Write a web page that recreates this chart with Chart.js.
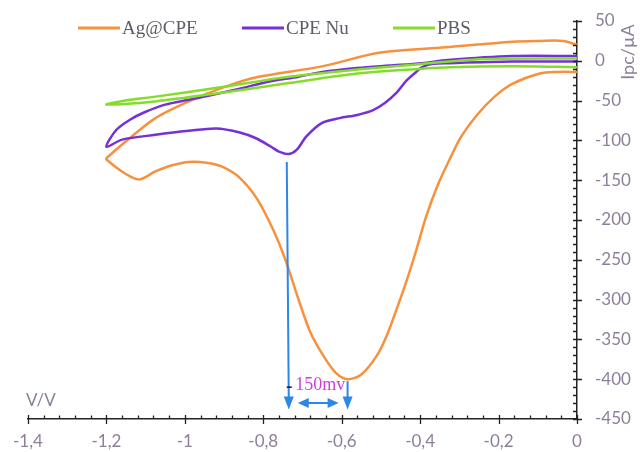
<!DOCTYPE html>
<html>
<head>
<meta charset="utf-8">
<script src="https://cdn.jsdelivr.net/npm/chart.js@4.4.0/dist/chart.umd.min.js"></script>
<style>
  html, body { margin: 0; padding: 0; background: #fff; }
  canvas { display: block; }
</style>
</head>
<body>
<canvas id="cvChart" width="640" height="452"></canvas>
<script>
// Cyclic voltammograms: potential (V) and current (µA), in scan order around each loop
const seriesNames = ['Ag@CPE', 'CPE Nu', 'PBS'];

const agPotential = [0, -0.05, -0.095, -0.165, -0.21, -0.255, -0.295, -0.325, -0.355, -0.385, -0.41, -0.435,
  -0.46, -0.485, -0.51, -0.55, -0.585, -0.615, -0.645, -0.68, -0.71, -0.745, -0.775, -0.815, -0.86, -0.905,
  -0.945, -0.99, -1.03, -1.075, -1.12, -1.2, -1.19, -1.14, -1.075, -0.99, -0.905, -0.82, -0.65, -0.505,
  -0.335, -0.165, -0.095, -0.035, 0];
const agCurrent = [-14, -14, -16, -29, -45, -68, -95, -124, -156, -196, -238, -277,
  -312, -345, -370, -394, -400, -392, -372, -341, -300, -248, -212, -174, -147, -133,
  -128, -127, -131, -139, -149, -124, -118, -97, -72, -51, -34, -21, -7, 10,
  17, 24, 25, 25, 20];

const nuPotential = [0, -0.165, -0.325, -0.37, -0.395, -0.41, -0.435, -0.46, -0.49, -0.52, -0.56, -0.605,
  -0.65, -0.69, -0.715, -0.735, -0.76, -0.78, -0.82, -0.86, -0.92, -0.99, -1.075, -1.16, -1.2,
  -1.175, -1.14, -1.1, -1.05, -0.99, -0.94, -0.86, -0.785, -0.71, -0.65, -0.56, -0.48, -0.395, -0.33,
  -0.165, 0];
const nuCurrent = [-1, -1, -3, -4, -8, -14, -25, -40, -53, -62, -68, -72,
  -78, -95, -112, -117, -114, -108, -97, -90, -85, -88, -93, -99, -108,
  -87, -74, -64, -55, -49, -44, -35, -26, -20, -14, -9, -6, -3, 1,
  6, 6];

const pbsPotential = [0, -0.165, -0.325, -0.395, -0.56, -0.735, -0.905, -1.075, -1.2,
  -1.14, -1.075, -0.905, -0.735, -0.56, -0.395, -0.25, 0];
const pbsCurrent = [-8, -7, -8, -10, -16, -28, -40, -51, -55,
  -49, -45, -33, -20, -11, -4, 2, 3];

const seriesColors = ['#f7913d', '#7630d8', '#84dd2a'];
const labelColor = '#8d7f99';

function toPoints(xs, ys) {
  return xs.map((v, i) => ({ x: v, y: ys[i] }));
}

// reduction peak = lowest current of a loop
function peakOf(xs, ys) {
  const i = ys.indexOf(Math.min(...ys));
  return { v: xs[i], i: ys[i] };
}

function fmtVolt(v) {
  const r = Math.round(v * 10) / 10;
  return String(r).replace('.', ',');
}

function arrowHead(ctx, tipX, tipY, dx, dy, len, half) {
  const nx = -dy, ny = dx;
  ctx.beginPath();
  ctx.moveTo(tipX, tipY);
  ctx.lineTo(tipX - dx * len + nx * half, tipY - dy * len + ny * half);
  ctx.lineTo(tipX - dx * len - nx * half, tipY - dy * len - ny * half);
  ctx.closePath();
  ctx.fill();
}

const decorations = {
  id: 'decorations',
  afterDraw(chart) {
    const { ctx, scales: { x, y } } = chart;
    const x0 = x.getPixelForValue(0);
    const yb = y.getPixelForValue(-450);
    ctx.save();

    // tick marks: majors cross the axis, minors sit inside
    ctx.strokeStyle = '#222';
    ctx.lineWidth = 1.3;
    ctx.beginPath();
    for (let k = 0; k <= 35; k++) {
      const px = Math.round(x.getPixelForValue(-1.4 + k * 0.04)) + 0.5;
      const major = k % 5 === 0;
      ctx.moveTo(px, yb - (major ? 4 : 3.5));
      ctx.lineTo(px, yb + (major ? 5 : 0));
    }
    for (let k = 0; k <= 50; k++) {
      const py = Math.round(y.getPixelForValue(-450 + k * 10)) + 0.5;
      const major = k % 5 === 0;
      ctx.moveTo(x0 - 4, py);
      ctx.lineTo(x0 + (major ? 5 : 0), py);
    }
    ctx.stroke();

    // axis captions
    ctx.fillStyle = labelColor;
    ctx.font = '17px Lato';
    ctx.textBaseline = 'middle';
    ctx.textAlign = 'left';
    ctx.fillText('V/V', 26, 401);
    ctx.save();
    ctx.translate(628, 52);
    ctx.rotate(-Math.PI / 2);
    ctx.textAlign = 'center';
    ctx.font = '18px Lato';
    ctx.fillText('Ipc/µA', 0, 0);
    ctx.restore();

    // legend
    const legendX = [78, 242, 393];
    ctx.font = '19px "Liberation Serif"';
    ctx.lineWidth = 3;
    chart.data.datasets.forEach((ds, i) => {
      const lx = legendX[i];
      ctx.strokeStyle = ds.borderColor;
      ctx.beginPath();
      ctx.moveTo(lx, 28);
      ctx.lineTo(lx + 42, 28);
      ctx.stroke();
      ctx.fillStyle = '#5c5c66';
      ctx.fillText(ds.label, lx + 44, 29);
    });

    // peak separation markers
    const pNu = peakOf(nuPotential, nuCurrent);
    const pAg = peakOf(agPotential, agCurrent);
    const xa = x.getPixelForValue(pNu.v);
    const xb = x.getPixelForValue(pAg.v);
    const tipY = y.getPixelForValue(-438);
    const midY = y.getPixelForValue(-430);
    ctx.strokeStyle = '#2b87ea';
    ctx.fillStyle = '#2b87ea';
    ctx.lineWidth = 2;
    ctx.beginPath();
    ctx.moveTo(xa - 2, y.getPixelForValue(pNu.i) + 8);
    ctx.lineTo(xa, tipY - 10);
    ctx.moveTo(xb, y.getPixelForValue(pAg.i) + 2);
    ctx.lineTo(xb, tipY - 10);
    ctx.moveTo(xa + 18, midY);
    ctx.lineTo(xb - 18, midY);
    ctx.stroke();
    arrowHead(ctx, xa, tipY, 0, 1, 13, 5);
    arrowHead(ctx, xb, tipY, 0, 1, 13, 5);
    arrowHead(ctx, xa + 9, midY, -1, 0, 11, 5);
    arrowHead(ctx, xb - 9, midY, 1, 0, 11, 5);

    ctx.strokeStyle = '#111';
    ctx.lineWidth = 1.5;
    ctx.beginPath();
    ctx.moveTo(xa - 2, y.getPixelForValue(-410));
    ctx.lineTo(xa + 3, y.getPixelForValue(-410));
    ctx.stroke();

    const sep = Math.round((pAg.v - pNu.v) * 1000);
    ctx.fillStyle = '#cf3fd8';
    ctx.font = '18px "Liberation Serif"';
    ctx.textAlign = 'center';
    ctx.fillText(sep + 'mv', (xa + xb) / 2 + 2, y.getPixelForValue(-408));
    ctx.restore();
  }
};

new Chart(document.getElementById('cvChart'), {
  type: 'scatter',
  data: {
    datasets: [
      { label: seriesNames[0], data: toPoints(agPotential, agCurrent), borderColor: seriesColors[0], order: 2 },
      { label: seriesNames[1], data: toPoints(nuPotential, nuCurrent), borderColor: seriesColors[1], order: 1 },
      { label: seriesNames[2], data: toPoints(pbsPotential, pbsCurrent), borderColor: seriesColors[2], order: 0 }
    ].map(ds => Object.assign(ds, {
      showLine: true,
      pointRadius: 0,
      borderWidth: 2.5,
      tension: 0.3,
      fill: false
    }))
  },
  options: {
    responsive: false,
    animation: false,
    layout: { padding: { top: 21, left: 28, right: 0, bottom: 0 } },
    plugins: {
      legend: { display: false },
      tooltip: { enabled: false }
    },
    scales: {
      x: {
        type: 'linear',
        min: -1.4,
        max: 0,
        // tick marks are drawn by the plugin; tickLength only spaces the labels
        grid: { display: false, drawTicks: true, tickLength: 11 },
        border: { display: true, color: '#222', width: 1.5 },
        ticks: {
          stepSize: 0.2,
          maxRotation: 0,
          autoSkip: false,
          padding: 1,
          color: labelColor,
          font: { family: 'Lato', size: 17 },
          callback: v => fmtVolt(v)
        },
        afterFit: s => { s.height = 33; }
      },
      y: {
        type: 'linear',
        position: 'right',
        min: -450,
        max: 50,
        grid: { display: false, drawTicks: true, tickLength: 16 },
        border: { display: true, color: '#222', width: 1.5 },
        ticks: {
          stepSize: 50,
          padding: 2,
          color: labelColor,
          font: { family: 'Lato', size: 17 }
        },
        afterFit: s => { s.width = 63; }
      }
    }
  },
  plugins: [decorations]
});
</script>
</body>
</html>
